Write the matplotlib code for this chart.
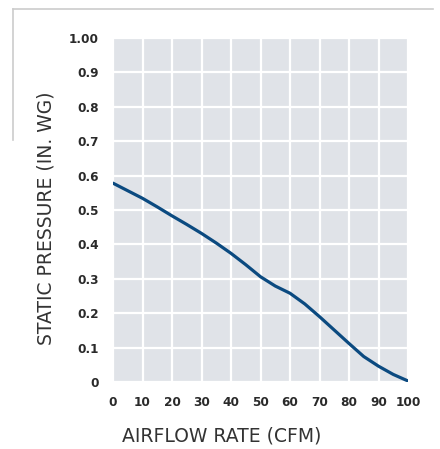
import matplotlib
matplotlib.use("Agg")
import matplotlib.pyplot as plt
from matplotlib.lines import Line2D

airflow = [0, 5, 10, 15, 20, 25, 30, 35, 40, 45, 50, 55, 60, 65, 70, 75, 80, 85, 90, 95, 100]
pressure = [0.578, 0.556, 0.534, 0.509, 0.483, 0.458, 0.432, 0.404, 0.374, 0.341, 0.306, 0.279,
            0.258, 0.227, 0.19, 0.151, 0.112, 0.074, 0.046, 0.022, 0.003]
x_ticks = [0, 10, 20, 30, 40, 50, 60, 70, 80, 90, 100]
y_ticks = [0, 0.1, 0.2, 0.3, 0.4, 0.5, 0.6, 0.7, 0.8, 0.9, 1.0]
y_labels = ["0", "0.1", "0.2", "0.3", "0.4", "0.5", "0.6", "0.7", "0.8", "0.9", "1.00"]

plt.rcParams['font.family'] = ['DejaVu Sans']

W, H = 440, 449
fig = plt.figure(figsize=(W / 100, H / 100), dpi=100)
ax = fig.add_axes([113 / W, 1 - 382 / H, (408 - 113) / W, (382 - 38) / H])
ax.set_facecolor('#e0e3e8')
ax.set_xlim(0, 100)
ax.set_ylim(0, 1.0)
ax.set_xticks(x_ticks)
ax.set_yticks(y_ticks)
ax.set_yticklabels(y_labels)
ax.grid(True, color='white', linewidth=1.6)
ax.set_axisbelow(True)
for s in ax.spines.values():
    s.set_visible(False)
ax.tick_params(length=0, labelsize=8.7, colors='#2a2a2a', pad=10)
for lab in ax.get_xticklabels() + ax.get_yticklabels():
    lab.set_fontweight('bold')
ax.plot(airflow, pressure, color='#0b4a80', linewidth=2.3, solid_capstyle='round',
        solid_joinstyle='round')

fig.text(46 / W, 1 - 218 / H, 'STATIC PRESSURE (IN. WG)', rotation=90, ha='center', va='center',
         fontsize=13.5, color='#333333')
fig.text(222 / W, 1 - 436 / H, 'AIRFLOW RATE (CFM)', ha='center', va='center',
         fontsize=13.5, color='#333333')

# decorative frame lines
fig.add_artist(Line2D([13 / W, 433 / W], [1 - 9 / H, 1 - 9 / H], color='#cccccc', linewidth=1.2))
fig.add_artist(Line2D([13 / W, 13 / W], [1 - 9 / H, 1 - 140 / H], color='#cccccc', linewidth=1.2))

fig.savefig('out.png', dpi=100)
